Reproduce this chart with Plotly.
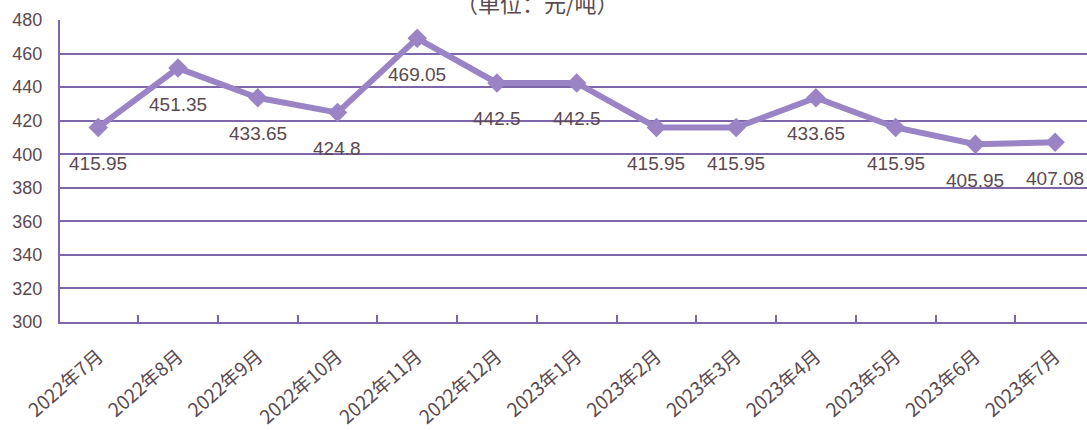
import plotly.graph_objects as go

months = ["2022年7月", "2022年8月", "2022年9月", "2022年10月", "2022年11月", "2022年12月",
          "2023年1月", "2023年2月", "2023年3月", "2023年4月", "2023年5月", "2023年6月", "2023年7月"]
prices = [415.95, 451.35, 433.65, 424.8, 469.05, 442.5, 442.5, 415.95, 415.95, 433.65, 415.95, 405.95, 407.08]
price_labels = ["415.95", "451.35", "433.65", "424.8", "469.05", "442.5", "442.5",
                "415.95", "415.95", "433.65", "415.95", "405.95", "407.08"]
y_ticks = [300, 320, 340, 360, 380, 400, 420, 440, 460, 480]
title_text = "（单位：元/吨）"

LINE_COLOR = "#9a84c6"
GRID_COLOR = "#7f66ab"
TEXT_COLOR = "#5a4a4f"

fig = go.Figure()
fig.add_trace(go.Scatter(
    x=months, y=prices, mode="lines+markers",
    line=dict(color=LINE_COLOR, width=6),
    marker=dict(symbol="diamond", size=15, color=LINE_COLOR),
    showlegend=False, hoverinfo="skip",
))

for m, v, t in zip(months, prices, price_labels):
    fig.add_annotation(x=m, y=v, text=t, showarrow=False, yshift=-36,
                       font=dict(family="Liberation Sans, Arial", size=19, color=TEXT_COLOR))

fig.add_annotation(xref="paper", yref="paper", x=0.4654, y=1, yshift=18, yanchor="middle",
                   text=title_text, showarrow=False,
                   font=dict(family="Noto Sans CJK SC", size=22, color=TEXT_COLOR))

fig.update_layout(
    width=1087, height=430,
    margin=dict(l=60, r=0, t=20, b=108),
    paper_bgcolor="white", plot_bgcolor="white",
    xaxis=dict(
        type="category", range=[-0.48, 12.40],
        showgrid=False, showline=True, linecolor=GRID_COLOR, linewidth=2,
        ticks="inside", tickson="boundaries", ticklen=7, tickwidth=1.5, tickcolor=GRID_COLOR,
        tickangle=-41, ticklabelstandoff=14,
        tickfont=dict(family="Noto Sans CJK SC", size=19, color=TEXT_COLOR),
    ),
    yaxis=dict(
        range=[300, 480], tickvals=y_ticks,
        showgrid=True, gridcolor=GRID_COLOR, gridwidth=1.5,
        showline=True, linecolor=GRID_COLOR, linewidth=2,
        zeroline=False, ticks="", ticklabelstandoff=12,
        tickfont=dict(family="Liberation Sans, Arial", size=18, color=TEXT_COLOR),
    ),
)

fig.write_html("out.html", config={"displayModeBar": False},
               post_script="document.body.style.margin='0';")
